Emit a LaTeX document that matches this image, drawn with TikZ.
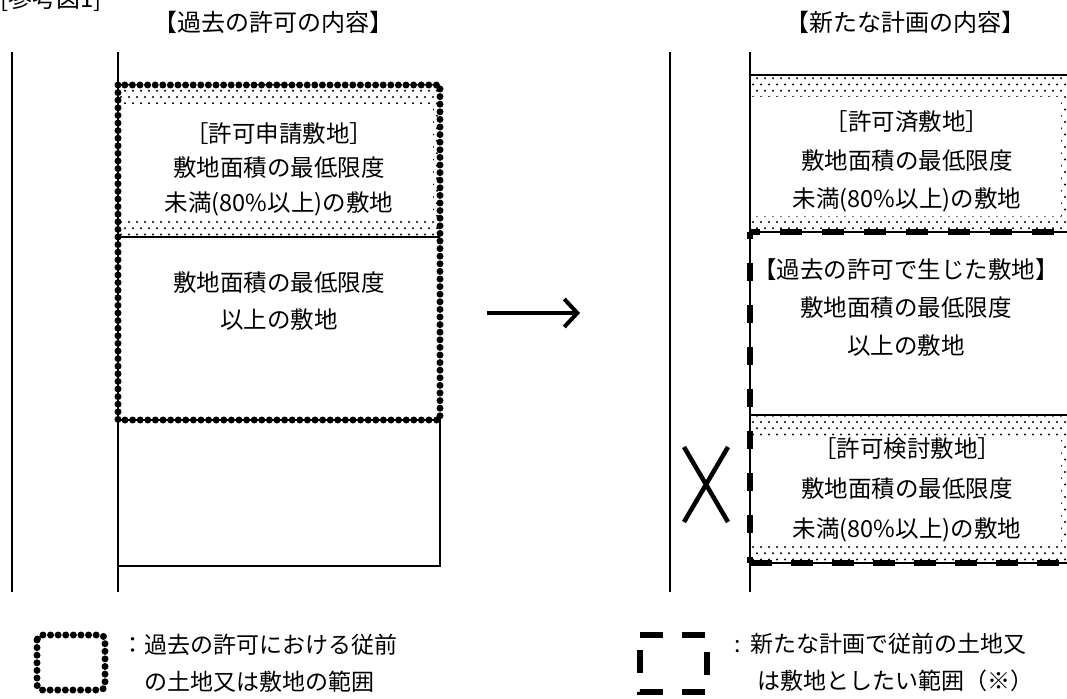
\documentclass[tikz,border=0pt]{standalone}
\usepackage{fontspec}
\setmainfont{Noto Sans CJK JP}
\usetikzlibrary{patterns,arrows.meta}
\pgfdeclarepatternformonly{stip}{\pgfpoint{-1pt}{-1pt}}{\pgfpoint{9pt}{13pt}}{\pgfpoint{8pt}{12.5pt}}{%
  \pgfpathcircle{\pgfpoint{1pt}{1pt}}{1.05pt}%
  \pgfpathcircle{\pgfpoint{5pt}{7.25pt}}{1.05pt}%
  \pgfusepath{fill}}
\tikzset{
  ln/.style={line width=1.6pt, black},
  ttl/.style={inner sep=0pt, font=\fontsize{24}{30}\selectfont},
  txt/.style={inner sep=0pt, align=center},
  leg/.style={inner sep=0pt, align=left, font=\fontsize{23}{37}\selectfont},
  dotb/.style={line width=7pt, dash pattern=on 0pt off 7.6pt, line cap=round},
  dashb/.style={line width=5.5pt},
  arrowst/.style={line width=4pt, -{Straight Barb[length=13pt,width=28pt]}}
}
\begin{document}
\begin{tikzpicture}[x=1pt,y=-1pt]
\useasboundingbox (0,0) rectangle (1067,698);
% titles
\node[ttl, anchor=base west] (fig) at (0,8) {[参考図1]};
\node[ttl] (tl) at (273,22) {【過去の許可の内容】};
\node[ttl] (tr) at (905,22) {【新たな計画の内容】};

% ---- left side ----
\fill[pattern=stip] (118,85) rectangle (440,237);
\fill[white] (120,104) rectangle (433,221);
\draw[ln] (12,52) -- (12,592);
\draw[ln] (118,52) -- (118,592);
\draw[ln] (118,237) -- (440,237);
\draw[ln] (118,420) rectangle (440,566);
\node[txt, font=\fontsize{23.5}{34.5}\selectfont] (a) at (279,169)
  {［許可申請敷地］\\敷地面積の最低限度\\未満(80\%以上)の敷地};
\node[txt, font=\fontsize{23.5}{37}\selectfont] (b) at (279,301)
  {敷地面積の最低限度\\以上の敷地};
\draw[dotb] (118,85) rectangle (440,420);

% arrow
\coordinate (arS) at (487,313);
\coordinate (arE) at (580,313);
\draw[arrowst] (arS) -- (arE);

% ---- right side ----
\fill[pattern=stip] (750,75) rectangle (1067,232);
\fill[white] (752,97) rectangle (1061,216);
\fill[pattern=stip] (750,415) rectangle (1067,563);
\fill[white] (752,437) rectangle (1061,545);
\draw[ln] (670,52) -- (670,592);
\draw[ln] (750,52) -- (750,592);
\draw[ln] (750,75) -- (1067,75);
\draw[ln] (750,232) -- (1067,232);
\draw[ln] (750,415) -- (1067,415);
\draw[ln] (750,563) -- (1067,563);
\node[txt, font=\fontsize{23.5}{38.5}\selectfont] (d) at (907,161.5)
  {［許可済敷地］\\敷地面積の最低限度\\未満(80\%以上)の敷地};
\node[txt, font=\fontsize{23.5}{38}\selectfont] (e) at (906,308)
  {【過去の許可で生じた敷地】\\敷地面積の最低限度\\以上の敷地};
\node[txt, font=\fontsize{23.5}{40}\selectfont] (f) at (907,490)
  {［許可検討敷地］\\敷地面積の最低限度\\未満(80\%以上)の敷地};
% dashed border
\draw[dashb, dash pattern=on 22pt off 20pt, dash phase=12pt] (750,232) -- (1067,232);
\draw[dashb, dash pattern=on 18pt off 24pt, dash phase=11pt] (750,232) -- (750,563);
\draw[dashb, dash pattern=on 22pt off 19pt] (750,563) -- (1067,563);

% cross
\draw[line width=4.5pt] (684,447) -- (728,522);
\draw[line width=4.5pt] (684,522) -- (728,447);

% ---- legend ----
\draw[dotb, rounded corners=5pt] (37,635) rectangle (105,690);
\node[leg, anchor=west] (l1) at (121,663.5)
  {：過去の許可における従前\\\phantom{：}の土地又は敷地の範囲};
\draw[dashb, dash pattern=on 23pt off 19pt] (640,635) -- (707,635) -- (707,692) -- (640,692) -- cycle;
\node[leg, anchor=west] (l2) at (734,662.5)
  {:\hspace{9.5pt}新たな計画で従前の土地又\\\hspace{23pt}は敷地としたい範囲（※）};
\end{tikzpicture}
\end{document}
